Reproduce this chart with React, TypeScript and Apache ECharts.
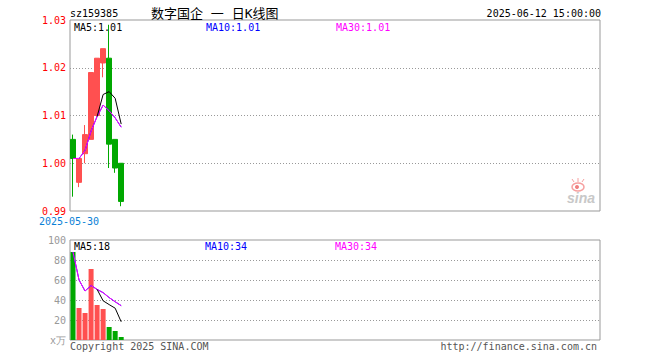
import React, { useEffect, useRef } from 'react';
import * as echarts from 'echarts';

const symbolCode = 'sz159385';
const titleText = '数字国企 一 日K线图';
const timestamp = '2025-06-12 15:00:00';
const copyrightText = 'Copyright 2025 SINA.COM';
const siteText = 'http://finance.sina.com.cn';

const dates = ['2025-05-30', '2025-06-03', '2025-06-04', '2025-06-05', '2025-06-06', '2025-06-09', '2025-06-10', '2025-06-11', '2025-06-12'];
const opens = [1.005, 0.996, 1.002, 1.005, 1.010, 1.021, 1.022, 1.005, 1.000];
const closes = [1.001, 1.001, 1.006, 1.019, 1.022, 1.024, 1.004, 0.999, 0.992];
const lows = [0.993, 0.995, 1.000, 1.005, 1.010, 1.018, 0.999, 0.998, 0.991];
const highs = [1.006, 1.001, 1.008, 1.019, 1.022, 1.024, 1.029, 1.005, 1.000];
const volumes = [88, 32, 27, 71, 35, 31, 13, 9, 3];

const priceMin = 0.99;
const priceMax = 1.03;
const priceStep = 0.01;
const volMin = 0;
const volMax = 100;
const volStep = 20;
const volUnitLabel = 'x万';
const SLOTS = 88;

const RED = '#ff5050';
const GREEN = '#00a800';
const MONO = '"DejaVu Sans Mono", monospace';

function maFull(arr: number[], n: number) {
  return arr.map((_, i) => {
    if (i < n - 1) return '-';
    let s = 0;
    for (let k = i - n + 1; k <= i; k++) s += arr[k];
    return s / n;
  });
}
function maPartial(arr: number[], n: number) {
  return arr.map((_, i) => {
    const st = Math.max(0, i - n + 1);
    let s = 0;
    for (let k = st; k <= i; k++) s += arr[k];
    return s / (i - st + 1);
  });
}
function lastNum(a: any[]) {
  return a[a.length - 1] as number;
}

export default function App() {
  const ref = useRef<HTMLDivElement>(null);
  useEffect(() => {
    const chart = echarts.init(ref.current!, null, { renderer: 'svg' });
    const cats = [...dates];
    while (cats.length < SLOTS) cats.push('');

    const pMa5 = maFull(closes, 5);
    const pMa10 = maPartial(closes, 10);
    const pMa30 = maPartial(closes, 30);
    const vMa5 = maFull(volumes, 5);
    const vMa10 = maPartial(volumes, 10);
    const vMa30 = maPartial(volumes, 30);

    const txt = (text: string, x: number, y: number, fill: string, extra: any = {}) => ({
      type: 'text',
      x,
      y,
      silent: true,
      style: { text, fill, fontSize: 10, fontFamily: MONO, align: 'left', verticalAlign: 'middle', ...extra },
    });

    const splitStyle = { show: true, showMinLine: false, showMaxLine: false, lineStyle: { color: '#999', type: [1, 2], width: 1 } };

    const option: any = {
      animation: false,
      backgroundColor: '#fff',
      grid: [
        { left: 70, right: 60, top: 20, height: 191, show: true, borderColor: '#999', borderWidth: 1 },
        { left: 70, right: 60, top: 240, height: 100, show: true, borderColor: '#999', borderWidth: 1 },
      ],
      xAxis: [
        {
          type: 'category', gridIndex: 0, data: cats, boundaryGap: true,
          axisLine: { show: false }, axisTick: { show: false }, splitLine: { show: false },
          axisLabel: {
            interval: (i: number) => i === 0, color: '#0a7fd6', fontSize: 10, fontFamily: MONO,
            margin: 5, padding: [0, 8, 0, 0],
          },
        },
        {
          type: 'category', gridIndex: 1, data: cats, boundaryGap: true,
          axisLine: { show: false }, axisTick: { show: false }, axisLabel: { show: false }, splitLine: { show: false },
        },
      ],
      yAxis: [
        {
          type: 'value', gridIndex: 0, min: priceMin, max: priceMax, interval: priceStep,
          axisLine: { show: false }, axisTick: { show: false },
          axisLabel: { color: '#f00', fontSize: 10, fontFamily: MONO, margin: 4, formatter: (v: number) => v.toFixed(2) },
          splitLine: splitStyle,
        },
        {
          type: 'value', gridIndex: 1, min: volMin, max: volMax, interval: volStep,
          axisLine: { show: false }, axisTick: { show: false },
          axisLabel: { color: '#999', fontSize: 10, fontFamily: MONO, margin: 4, formatter: (v: number) => (v === 0 ? volUnitLabel : String(v)) },
          splitLine: splitStyle,
        },
      ],
      series: [
        {
          type: 'candlestick', xAxisIndex: 0, yAxisIndex: 0, barWidth: 5,
          data: dates.map((_, i) => [opens[i], closes[i], lows[i], highs[i]]),
          itemStyle: { color: RED, color0: GREEN, borderColor: RED, borderColor0: GREEN, borderWidth: 1 },
        },
        { type: 'line', xAxisIndex: 0, yAxisIndex: 0, data: pMa10, symbol: 'none', lineStyle: { color: '#00f', width: 1 } },
        { type: 'line', xAxisIndex: 0, yAxisIndex: 0, data: pMa30, symbol: 'none', lineStyle: { color: '#f0f', width: 1 } },
        { type: 'line', xAxisIndex: 0, yAxisIndex: 0, data: pMa5, symbol: 'none', lineStyle: { color: '#000', width: 1 } },
        {
          type: 'bar', xAxisIndex: 1, yAxisIndex: 1, barWidth: 5,
          data: volumes.map((v, i) => ({ value: v, itemStyle: { color: closes[i] >= opens[i] ? RED : GREEN } })),
        },
        { type: 'line', xAxisIndex: 1, yAxisIndex: 1, data: vMa10, symbol: 'none', lineStyle: { color: '#00f', width: 1 } },
        { type: 'line', xAxisIndex: 1, yAxisIndex: 1, data: vMa30, symbol: 'none', lineStyle: { color: '#f0f', width: 1 } },
        { type: 'line', xAxisIndex: 1, yAxisIndex: 1, data: vMa5, symbol: 'none', lineStyle: { color: '#000', width: 1 } },
      ],
      graphic: [
        txt(symbolCode, 70, 13, '#000'),
        txt(titleText, 151, 13, '#000', { fontSize: 13, fontFamily: '"DejaVu Sans Mono", "Noto Sans CJK SC"' }),
        txt(timestamp, 601, 13, '#000', { align: 'right' }),
        txt('MA5:' + lastNum(pMa5).toFixed(2), 74, 27, '#000'),
        txt('MA10:' + lastNum(pMa10).toFixed(2), 206, 27, '#00f'),
        txt('MA30:' + lastNum(pMa30).toFixed(2), 336, 27, '#f0f'),
        txt('MA5:' + Math.round(lastNum(vMa5)), 74, 246, '#000'),
        txt('MA10:' + Math.round(lastNum(vMa10)), 205, 246, '#00f'),
        txt('MA30:' + Math.round(lastNum(vMa30)), 335, 246, '#f0f'),
        txt(copyrightText, 70, 346, '#555'),
        txt(siteText, 597, 346, '#555', { align: 'right' }),
        {
          type: 'group', silent: true,
          children: [
            { type: 'ellipse', shape: { cx: 578, cy: 187, rx: 6, ry: 4 }, style: { fill: 'none', stroke: '#f6a0a0', lineWidth: 1.5 } },
            { type: 'circle', shape: { cx: 577, cy: 187, r: 2 }, style: { fill: '#f08080' } },
            { type: 'line', shape: { x1: 574, y1: 182, x2: 572, y2: 179 }, style: { stroke: '#f6a0a0', lineWidth: 1 } },
            { type: 'line', shape: { x1: 578, y1: 182, x2: 578, y2: 178 }, style: { stroke: '#f6a0a0', lineWidth: 1 } },
            { type: 'line', shape: { x1: 582, y1: 182, x2: 584, y2: 179 }, style: { stroke: '#f6a0a0', lineWidth: 1 } },
            {
              type: 'text', x: 581, y: 198,
              style: { text: 'sina', fill: '#c8c8c8', fontSize: 14, fontWeight: 'bold', fontStyle: 'italic', fontFamily: 'Arial, "Liberation Sans"', align: 'center', verticalAlign: 'middle' },
            },
          ],
        },
      ],
    };
    chart.setOption(option);
    return () => chart.dispose();
  }, []);
  return <div ref={ref} style={{ position: 'absolute', left: 0, top: 0, width: 660, height: 360, background: '#fff' }} />;
}
